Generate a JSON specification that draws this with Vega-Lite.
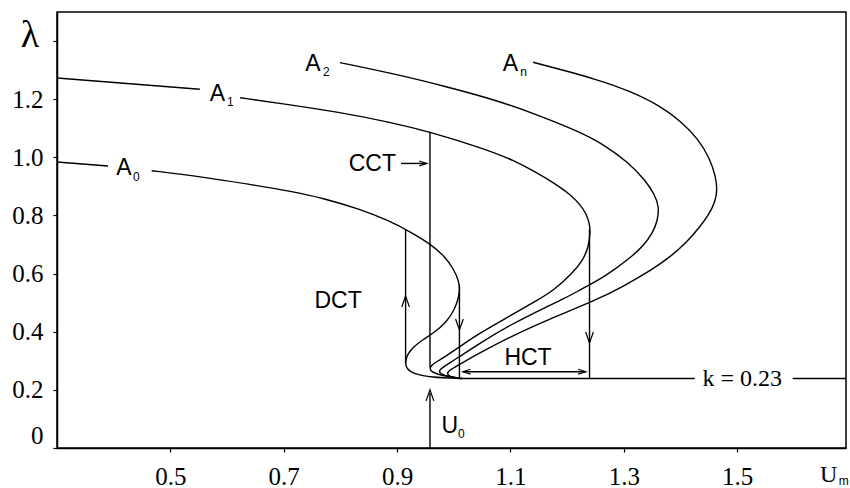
{
  "$schema": "https://vega.github.io/schema/vega-lite/v6.json",
  "width": 789,
  "height": 436,
  "autosize": {"type": "none"},
  "padding": {"left": 57, "top": 12, "right": 4, "bottom": 40},
  "background": "white",
  "config": {
    "view": {"stroke": "black", "strokeWidth": 1.5},
    "axis": {"grid": false, "domainColor": "black", "domainWidth": 1.5, "tickColor": "black", "tickWidth": 1.2, "tickSize": 4, "labelColor": "black", "labelFont": "Liberation Serif", "labelFontSize": 25, "labelOverlap": false}
  },
  "datasets": {
    "curves": [
      {"s": "A0a", "o": 1, "x": 0.3, "y": 0.984}, {"s": "A0a", "o": 2, "x": 0.39, "y": 0.97},
      {"s": "A0b", "o": 1, "x": 0.467, "y": 0.954}, {"s": "A0b", "o": 2, "x": 0.552, "y": 0.934}, {"s": "A0b", "o": 3, "x": 0.64, "y": 0.907}, {"s": "A0b", "o": 4, "x": 0.711, "y": 0.884}, {"s": "A0b", "o": 5, "x": 0.769, "y": 0.86}, {"s": "A0b", "o": 6, "x": 0.834, "y": 0.822}, {"s": "A0b", "o": 7, "x": 0.886, "y": 0.782}, {"s": "A0b", "o": 8, "x": 0.925, "y": 0.742}, {"s": "A0b", "o": 9, "x": 0.958, "y": 0.703}, {"s": "A0b", "o": 10, "x": 0.984, "y": 0.66}, {"s": "A0b", "o": 11, "x": 1.0, "y": 0.615}, {"s": "A0b", "o": 12, "x": 1.009, "y": 0.575}, {"s": "A0b", "o": 13, "x": 1.011, "y": 0.54}, {"s": "A0b", "o": 14, "x": 1.006, "y": 0.5}, {"s": "A0b", "o": 15, "x": 0.998, "y": 0.465}, {"s": "A0b", "o": 16, "x": 0.986, "y": 0.432}, {"s": "A0b", "o": 17, "x": 0.967, "y": 0.399}, {"s": "A0b", "o": 18, "x": 0.945, "y": 0.372}, {"s": "A0b", "o": 19, "x": 0.928, "y": 0.347}, {"s": "A0b", "o": 20, "x": 0.918, "y": 0.322}, {"s": "A0b", "o": 21, "x": 0.914, "y": 0.293}, {"s": "A0b", "o": 22, "x": 0.917, "y": 0.272}, {"s": "A0b", "o": 23, "x": 0.929, "y": 0.255}, {"s": "A0b", "o": 24, "x": 0.96, "y": 0.243}, {"s": "A0b", "o": 25, "x": 1.014, "y": 0.239},
      {"s": "A1a", "o": 1, "x": 0.3, "y": 1.273}, {"s": "A1a", "o": 2, "x": 0.552, "y": 1.234},
      {"s": "A1b", "o": 1, "x": 0.623, "y": 1.205}, {"s": "A1b", "o": 2, "x": 0.693, "y": 1.186}, {"s": "A1b", "o": 3, "x": 0.799, "y": 1.155}, {"s": "A1b", "o": 4, "x": 0.887, "y": 1.121}, {"s": "A1b", "o": 5, "x": 0.958, "y": 1.088}, {"s": "A1b", "o": 6, "x": 1.058, "y": 1.027}, {"s": "A1b", "o": 7, "x": 1.105, "y": 0.99}, {"s": "A1b", "o": 8, "x": 1.146, "y": 0.948}, {"s": "A1b", "o": 9, "x": 1.18, "y": 0.908}, {"s": "A1b", "o": 10, "x": 1.205, "y": 0.873}, {"s": "A1b", "o": 11, "x": 1.223, "y": 0.838}, {"s": "A1b", "o": 12, "x": 1.234, "y": 0.805}, {"s": "A1b", "o": 13, "x": 1.2395, "y": 0.772}, {"s": "A1b", "o": 14, "x": 1.241, "y": 0.743}, {"s": "A1b", "o": 15, "x": 1.2375, "y": 0.69}, {"s": "A1b", "o": 16, "x": 1.228, "y": 0.647}, {"s": "A1b", "o": 17, "x": 1.21, "y": 0.602}, {"s": "A1b", "o": 18, "x": 1.175, "y": 0.54}, {"s": "A1b", "o": 19, "x": 1.148, "y": 0.509}, {"s": "A1b", "o": 20, "x": 1.099, "y": 0.454}, {"s": "A1b", "o": 21, "x": 1.046, "y": 0.396}, {"s": "A1b", "o": 22, "x": 1.002, "y": 0.337}, {"s": "A1b", "o": 23, "x": 0.9755, "y": 0.303}, {"s": "A1b", "o": 24, "x": 0.961, "y": 0.286}, {"s": "A1b", "o": 25, "x": 0.957, "y": 0.275}, {"s": "A1b", "o": 26, "x": 0.961, "y": 0.261}, {"s": "A1b", "o": 27, "x": 0.9755, "y": 0.251}, {"s": "A1b", "o": 28, "x": 1.002, "y": 0.243}, {"s": "A1b", "o": 29, "x": 1.014, "y": 0.239},
      {"s": "A2", "o": 1, "x": 0.799, "y": 1.326}, {"s": "A2", "o": 2, "x": 0.905, "y": 1.283}, {"s": "A2", "o": 3, "x": 0.987, "y": 1.243}, {"s": "A2", "o": 4, "x": 1.075, "y": 1.197}, {"s": "A2", "o": 5, "x": 1.152, "y": 1.143}, {"s": "A2", "o": 6, "x": 1.222, "y": 1.088}, {"s": "A2", "o": 7, "x": 1.268, "y": 1.04}, {"s": "A2", "o": 8, "x": 1.306, "y": 0.985}, {"s": "A2", "o": 9, "x": 1.338, "y": 0.922}, {"s": "A2", "o": 10, "x": 1.355, "y": 0.87}, {"s": "A2", "o": 11, "x": 1.362, "y": 0.83}, {"s": "A2", "o": 12, "x": 1.36, "y": 0.784}, {"s": "A2", "o": 13, "x": 1.351, "y": 0.74}, {"s": "A2", "o": 14, "x": 1.335, "y": 0.697}, {"s": "A2", "o": 15, "x": 1.314, "y": 0.658}, {"s": "A2", "o": 16, "x": 1.269, "y": 0.592}, {"s": "A2", "o": 17, "x": 1.222, "y": 0.543}, {"s": "A2", "o": 18, "x": 1.193, "y": 0.512}, {"s": "A2", "o": 19, "x": 1.1636, "y": 0.486}, {"s": "A2", "o": 20, "x": 1.099, "y": 0.423}, {"s": "A2", "o": 21, "x": 1.046, "y": 0.361}, {"s": "A2", "o": 22, "x": 1.007, "y": 0.31}, {"s": "A2", "o": 23, "x": 0.984, "y": 0.282}, {"s": "A2", "o": 24, "x": 0.9737, "y": 0.268}, {"s": "A2", "o": 25, "x": 0.9755, "y": 0.255}, {"s": "A2", "o": 26, "x": 0.993, "y": 0.244}, {"s": "A2", "o": 27, "x": 1.014, "y": 0.239},
      {"s": "An", "o": 1, "x": 1.14, "y": 1.327}, {"s": "An", "o": 2, "x": 1.258, "y": 1.266}, {"s": "An", "o": 3, "x": 1.314, "y": 1.225}, {"s": "An", "o": 4, "x": 1.363, "y": 1.178}, {"s": "An", "o": 5, "x": 1.401, "y": 1.124}, {"s": "An", "o": 6, "x": 1.432, "y": 1.062}, {"s": "An", "o": 7, "x": 1.452, "y": 0.995}, {"s": "An", "o": 8, "x": 1.462, "y": 0.935}, {"s": "An", "o": 9, "x": 1.465, "y": 0.888}, {"s": "An", "o": 10, "x": 1.461, "y": 0.845}, {"s": "An", "o": 11, "x": 1.45, "y": 0.803}, {"s": "An", "o": 12, "x": 1.434, "y": 0.76}, {"s": "An", "o": 13, "x": 1.411, "y": 0.708}, {"s": "An", "o": 14, "x": 1.381, "y": 0.656}, {"s": "An", "o": 15, "x": 1.349, "y": 0.613}, {"s": "An", "o": 16, "x": 1.302, "y": 0.559}, {"s": "An", "o": 17, "x": 1.252, "y": 0.509}, {"s": "An", "o": 18, "x": 1.164, "y": 0.44}, {"s": "An", "o": 19, "x": 1.099, "y": 0.382}, {"s": "An", "o": 20, "x": 1.046, "y": 0.327}, {"s": "An", "o": 21, "x": 1.014, "y": 0.292}, {"s": "An", "o": 22, "x": 0.993, "y": 0.268}, {"s": "An", "o": 23, "x": 0.9878, "y": 0.258}, {"s": "An", "o": 24, "x": 0.991, "y": 0.248}, {"s": "An", "o": 25, "x": 1.002, "y": 0.241}, {"s": "An", "o": 26, "x": 1.014, "y": 0.239},
      {"s": "K1", "o": 1, "x": 1.014, "y": 0.239}, {"s": "K1", "o": 2, "x": 1.425, "y": 0.239},
      {"s": "K2", "o": 1, "x": 1.598, "y": 0.239}, {"s": "K2", "o": 2, "x": 1.692, "y": 0.239},
      {"s": "DCT", "o": 1, "x": 0.915, "y": 0.291}, {"s": "DCT", "o": 2, "x": 0.915, "y": 0.752},
      {"s": "CCT", "o": 1, "x": 0.958, "y": 0.277}, {"s": "CCT", "o": 2, "x": 0.958, "y": 1.088},
      {"s": "A0drop", "o": 1, "x": 1.01, "y": 0.56}, {"s": "A0drop", "o": 2, "x": 1.01, "y": 0.239},
      {"s": "HCTdrop", "o": 1, "x": 1.2395, "y": 0.752}, {"s": "HCTdrop", "o": 2, "x": 1.2395, "y": 0.239},
      {"s": "U0", "o": 1, "x": 0.958, "y": 0}, {"s": "U0", "o": 2, "x": 0.958, "y": 0.19},
      {"s": "HCTarrow", "o": 1, "x": 1.016, "y": 0.2625}, {"s": "HCTarrow", "o": 2, "x": 1.233, "y": 0.2625},
      {"s": "CCTarrow", "o": 1, "x": 0.907, "y": 0.979}, {"s": "CCTarrow", "o": 2, "x": 0.951, "y": 0.979}
    ],
    "arrows": [
      {"d": "up", "x": 0.915, "y": 0.504},
      {"d": "down", "x": 1.01, "y": 0.425},
      {"d": "down", "x": 1.2395, "y": 0.38},
      {"d": "up", "x": 0.958, "y": 0.181},
      {"d": "left", "x": 1.0228, "y": 0.2625},
      {"d": "right", "x": 1.2262, "y": 0.2625},
      {"d": "right", "x": 0.9458, "y": 0.979}
    ],
    "texts": [
      {"r": "lab", "t": "A", "x": 0.4182, "y": 0.965},
      {"r": "lab", "t": "A", "x": 0.5831, "y": 1.217},
      {"r": "lab", "t": "A", "x": 0.7515, "y": 1.32},
      {"r": "lab", "t": "A", "x": 1.0998, "y": 1.321},
      {"r": "lab", "t": "CCT", "x": 0.8564, "y": 0.976},
      {"r": "lab", "t": "DCT", "x": 0.796, "y": 0.506},
      {"r": "lab", "t": "HCT", "x": 1.131, "y": 0.311},
      {"r": "lab", "t": "U", "x": 0.993, "y": 0.0774},
      {"r": "sub", "t": "0", "x": 0.4402, "y": 0.934},
      {"r": "sub", "t": "1", "x": 0.606, "y": 1.19},
      {"r": "sub", "t": "2", "x": 0.775, "y": 1.294},
      {"r": "sub", "t": "n", "x": 1.123, "y": 1.292},
      {"r": "sub", "t": "0", "x": 1.0134, "y": 0.048},
      {"r": "sub", "t": "m", "x": 1.688, "y": -0.112},
      {"r": "serif", "t": "k = 0.23", "x": 1.509, "y": 0.237},
      {"r": "serif", "t": "U", "x": 1.6615, "y": -0.092},
      {"r": "greek", "t": "λ", "x": 0.2524, "y": 1.417}
    ]
  },
  "layer": [
    {
      "data": {"name": "curves"},
      "mark": {"type": "line", "interpolate": "basis", "stroke": "black", "strokeWidth": 1.4},
      "encoding": {
        "x": {"field": "x", "type": "quantitative", "title": null, "scale": {"domain": [0.3, 1.692], "nice": false, "zero": false},
          "axis": {"values": [0.5, 0.7, 0.9, 1.1, 1.3, 1.5], "format": ".1f", "labelPadding": 12}},
        "y": {"field": "y", "type": "quantitative", "title": null, "scale": {"domain": [0, 1.5], "nice": false, "zero": false},
          "axis": {"values": [0, 0.1, 0.2, 0.3, 0.4, 0.5, 0.6, 0.7, 0.8, 0.9, 1.0, 1.1, 1.2, 1.3, 1.4], "labelPadding": 10, "labelFlush": true, "labelFlushOffset": 0,
            "labelExpr": "datum.value == 0 ? '0' : ((datum.value < 1.25 && round(datum.value * 10) % 2 == 0) ? format(datum.value, '.1f') : '')"}},
        "detail": {"field": "s", "type": "nominal"},
        "order": {"field": "o", "type": "quantitative"}
      }
    },
    {
      "data": {"name": "arrows"},
      "mark": {"type": "point", "filled": false, "stroke": "black", "strokeWidth": 1.2, "opacity": 1, "size": 121},
      "encoding": {
        "x": {"field": "x", "type": "quantitative", "title": null},
        "y": {"field": "y", "type": "quantitative", "title": null},
        "shape": {"field": "d", "type": "nominal", "legend": null,
          "scale": {"domain": ["up", "down", "left", "right"], "range": ["M-0.7,1L0,-1L0.7,1", "M-0.7,-1L0,1L0.7,-1", "M0.7,-0.45L-0.7,0L0.7,0.45", "M-0.7,-0.45L0.7,0L-0.7,0.45"]}}
      }
    },
    {
      "data": {"name": "texts"},
      "transform": [{"filter": "datum.r == 'lab'"}],
      "mark": {"type": "text", "font": "Liberation Sans", "fontSize": 23, "color": "black", "align": "center", "baseline": "middle"},
      "encoding": {
        "x": {"field": "x", "type": "quantitative", "title": null},
        "y": {"field": "y", "type": "quantitative", "title": null},
        "text": {"field": "t"}
      }
    },
    {
      "data": {"name": "texts"},
      "transform": [{"filter": "datum.r == 'sub'"}],
      "mark": {"type": "text", "font": "Liberation Sans", "fontSize": 12, "color": "black", "align": "center", "baseline": "middle"},
      "encoding": {
        "x": {"field": "x", "type": "quantitative", "title": null},
        "y": {"field": "y", "type": "quantitative", "title": null},
        "text": {"field": "t"}
      }
    },
    {
      "data": {"name": "texts"},
      "transform": [{"filter": "datum.r == 'serif'"}],
      "mark": {"type": "text", "font": "Liberation Serif", "fontSize": 24, "color": "black", "align": "center", "baseline": "middle"},
      "encoding": {
        "x": {"field": "x", "type": "quantitative", "title": null},
        "y": {"field": "y", "type": "quantitative", "title": null},
        "text": {"field": "t"}
      }
    },
    {
      "data": {"name": "texts"},
      "transform": [{"filter": "datum.r == 'greek'"}],
      "mark": {"type": "text", "font": "Liberation Serif", "fontSize": 38, "color": "black", "align": "center", "baseline": "middle"},
      "encoding": {
        "x": {"field": "x", "type": "quantitative", "title": null},
        "y": {"field": "y", "type": "quantitative", "title": null},
        "text": {"field": "t"}
      }
    }
  ]
}
